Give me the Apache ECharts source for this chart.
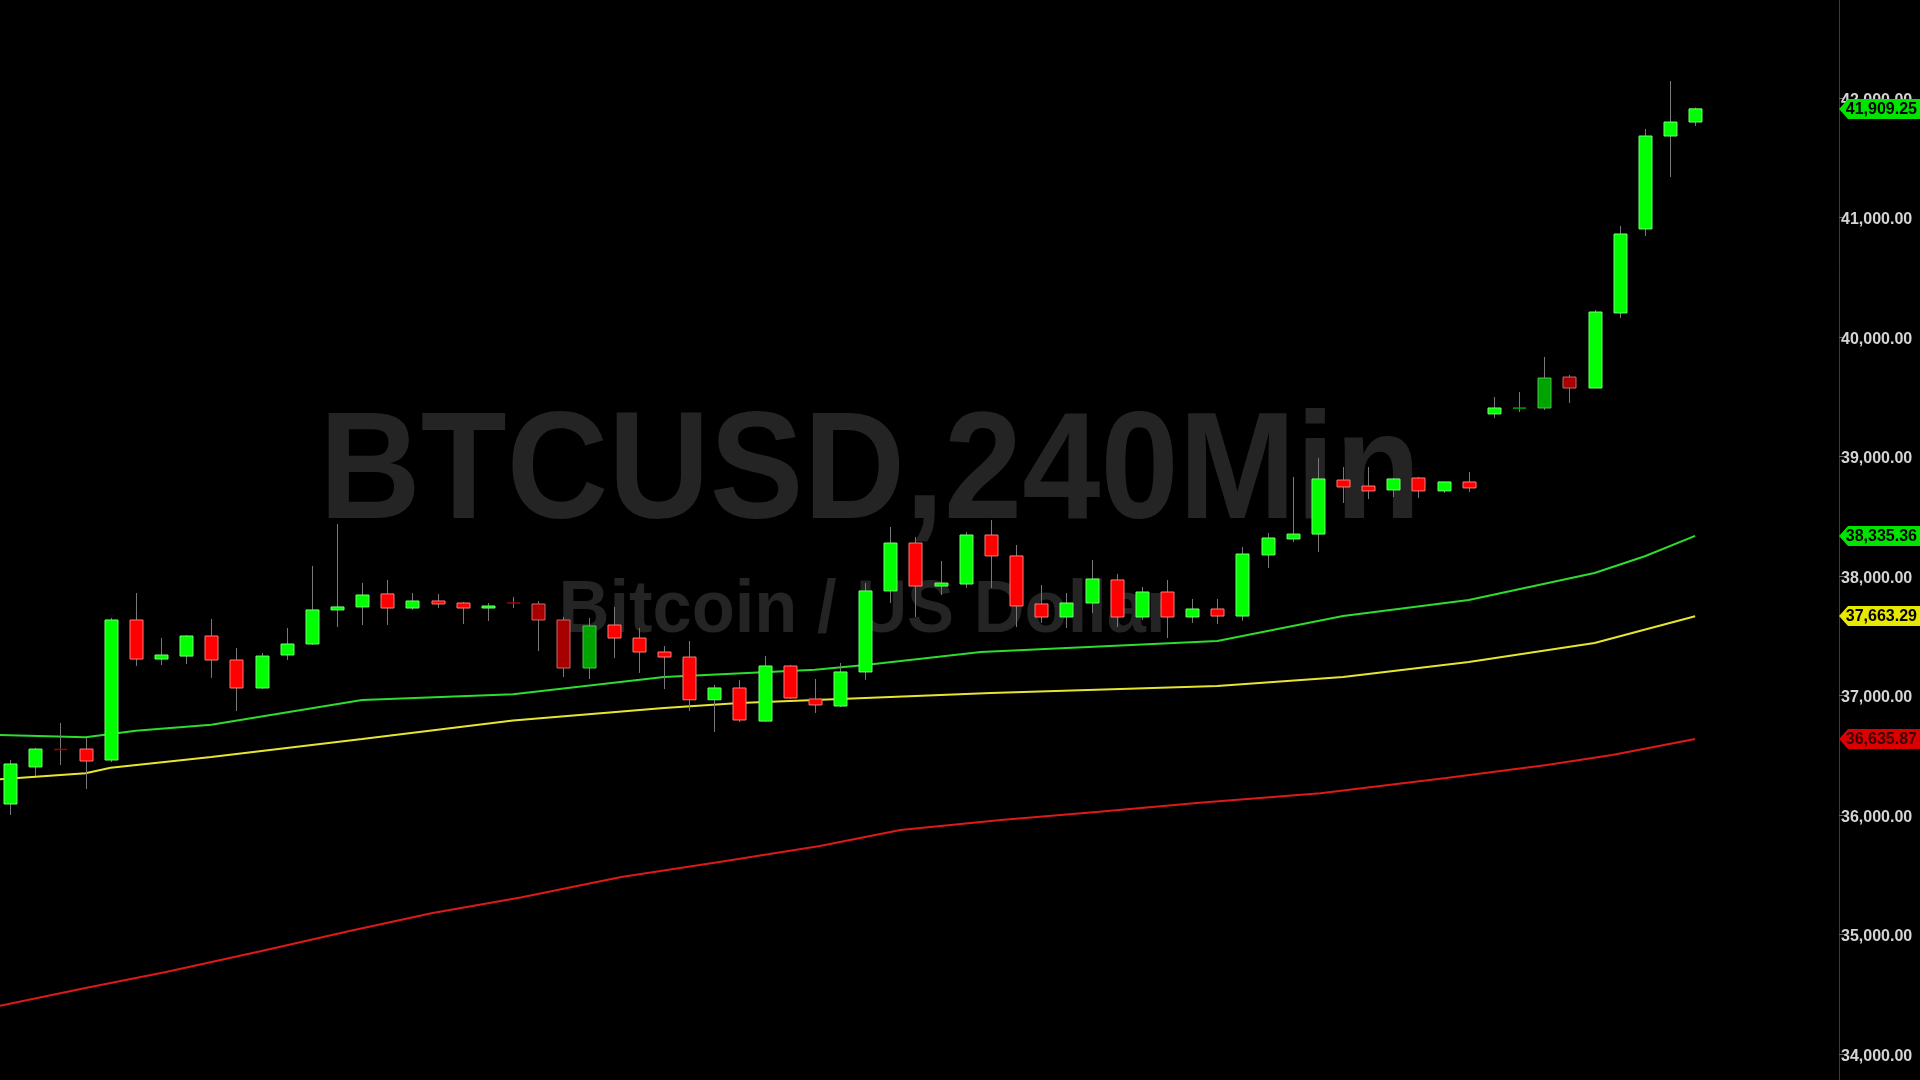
<!DOCTYPE html>
<html>
<head>
<meta charset="utf-8">
<style>
html,body{margin:0;padding:0;background:#000;}
#chart{width:1920px;height:1080px;}
</style>
<script src="https://cdn.jsdelivr.net/npm/echarts@6/dist/echarts.min.js"></script>
</head>
<body>
<div id="chart"></div>
<script>
// ---- data ----
const candleOpen = [36092,36402,36552,36552,36460,37632,37305,37330,37498,37297,
  37063,37339,37431,37716,37741,37850,37732,37791,37774,37732,
  37776,37766,37632,37230,37590,37481,37364,37322,36964,37063,
  36786,37247,36971,36912,37197,37875,38276,37916,37933,38343,
  38168,37766,37657,37774,37967,37657,37866,37657,37724,37665,
  38176,38310,38351,38803,38753,38720,38820,38712,38787,39356,
  39400,39406,39665,39573,40201,40904,41682,41799];
const candleHigh = [36460,36561,36770,36644,37649,37858,37481,37506,37640,37398,
  37356,37565,38084,38435,37942,37967,37858,37850,37783,37774,
  37825,37791,37657,37649,37741,37565,37414,37456,37088,37130,
  37330,37255,37138,37272,37941,38410,38326,38126,38368,38469,
  38260,37925,37858,38134,38017,37908,37967,37808,37808,38243,
  38360,38829,38988,38912,38912,38820,38829,38790,38870,39498,
  39540,39833,39682,40226,40929,41741,42142,41920];
const candleLow = [36000,36326,36419,36218,36443,37247,37255,37263,37147,36870,
  37055,37297,37423,37573,37590,37590,37716,37732,37598,37624,
  37732,37372,37155,37138,37314,37189,37054,36870,36695,36778,
  36778,36971,36854,36904,37130,37774,37657,37841,37900,37900,
  37573,37607,37565,37690,37573,37632,37481,37607,37598,37624,
  38067,38285,38201,38611,38644,38661,38653,38695,38703,39322,
  39372,39389,39448,39573,40159,40845,41339,41765];
const candleClose = [36427,36552,36545,36452,37632,37305,37339,37498,37297,37063,
  37330,37431,37716,37741,37841,37732,37791,37766,37732,37749,
  37772,37632,37230,37582,37481,37364,37322,36964,37063,36795,
  37247,36979,36921,37197,37875,38276,37916,37941,38343,38168,
  37749,37657,37774,37975,37657,37866,37657,37724,37665,38184,
  38318,38351,38812,38745,38712,38812,38712,38787,38737,39406,
  39410,39657,39573,40209,40862,41682,41799,41909.25];
const candleTone = ['g','g','dr','r','g','r','g','g','r','r',
  'g','g','g','g','g','r','g','r','r','g',
  'dr','dr','dr','dg','r','r','r','r','g','r',
  'g','r','r','g','g','g','r','g','g','r',
  'r','r','g','g','r','g','r','g','r','g',
  'g','g','g','r','r','g','r','g','r','g',
  'dg','dg','dr','g','g','g','g','g'];

const maFastX = [-0.4,3,5,8,14,20,26,32,34,38.6,48,53,58,63,65,67];
const maFastY = [36670,36650,36705,36755,36962,37010,37155,37215,37255,37364,37456,37665,37800,38025,38165,38335.36];
const maMidX = [-0.4,3,4,8,14,20,26,29,34,39,48,53,58,63,67];
const maMidY = [36300,36350,36395,36485,36636,36790,36896,36938,36980,37021,37080,37155,37280,37440,37663.29];
const maSlowX = [-0.4,3,6.2,10,13.5,16.8,20.3,24.3,28.2,32.2,35.4,39.4,43.3,47.3,52.1,57.1,61.1,63.7,67];
const maSlowY = [34404,34553,34686,34862,35030,35180,35310,35481,35607,35741,35875,35958,36028,36103,36182,36310,36419,36502,36635.87];

const tagValues = [41909.25, 38335.36, 37663.29, 36635.87];
const tagTone = ['g','g','y','r'];

const titleMain = 'BTCUSD,240Min';
const titleSub = 'Bitcoin / US Dollar';

// ---- styles ----
const toneFill = {g:'#00ff00', r:'#ff0000', dr:'#a80000', dg:'#00a400'};
const toneStroke = {g:'#70ff70', r:'#ff7a7a', dr:'#c86a6a', dg:'#4fbf4f'};
const tagFill = {g:'#00e400', y:'#e8e800', r:'#dc0000'};
const tagInk = {g:'#000000', y:'#000000', r:'#3a0000'};
const FONT = '"Liberation Sans", Arial, sans-serif';

function fmt(v){
  return v.toFixed(2).replace(/\B(?=(\d{3})+(?!\d))/g, ',');
}
function pairs(xs, ys){ return xs.map((x,i)=>[x, ys[i]]); }

const candleData = candleOpen.map((o,i)=>[i, o, candleClose[i], candleLow[i], candleHigh[i]]);
const tagData = tagValues.map((v,i)=>[72, v, i]);

const chart = echarts.init(document.getElementById('chart'), null, {renderer:'canvas'});

const option = {
  backgroundColor: '#000000',
  animation: false,
  grid: {left: 0, right: 81, top: -21.5, bottom: -93.5, containLabel: false, outerBoundsMode: 'none'},
  xAxis: {type:'value', min:-0.4, max:72.72, show:false},
  yAxis: {
    type:'value', position:'right', min:33000, max:43000, interval:1000,
    axisLine:{show:true, onZero:false, lineStyle:{color:'#3c3c3c', width:1}},
    axisTick:{show:true, length:5, lineStyle:{color:'#6a6a6a'}},
    splitLine:{show:false},
    axisLabel:{color:'#d4d4d4', fontSize:16, fontWeight:'bold', fontFamily:FONT, margin:2,
      formatter: function(v){ return '{t|' + fmt(v) + '}'; },
      rich:{t:{color:'#d4d4d4', fontSize:16, fontWeight:'bold', fontFamily:FONT, padding:[5,0,0,0]}}}
  },
  graphic: {elements: [
    {type:'text', x:870, y:476, scaleX:0.925, z:0, silent:true,
     style:{text:titleMain, fontSize:152, fontWeight:'bold', fontFamily:FONT, fill:'#242424', align:'center', verticalAlign:'middle'}},
    {type:'text', x:866, y:611, scaleX:0.94, z:0, silent:true,
     style:{text:titleSub, fontSize:75, fontWeight:'bold', fontFamily:FONT, fill:'#242424', align:'center', verticalAlign:'middle'}}
  ]},
  series: [
    {type:'line', name:'MA slow', data:pairs(maSlowX, maSlowY), symbol:'none', z:1,
     lineStyle:{color:'#dd1a1a', width:2}},
    {type:'line', name:'MA mid', data:pairs(maMidX, maMidY), symbol:'none', z:1,
     lineStyle:{color:'#e6e632', width:2}},
    {type:'line', name:'MA fast', data:pairs(maFastX, maFastY), symbol:'none', z:1,
     lineStyle:{color:'#2edc2e', width:2}},
    {type:'custom', name:'BTCUSD', data:candleData, z:3,
     encode:{x:0, y:[1,2,3,4]},
     renderItem: function(params, api){
       const i = api.value(0);
       const o = api.value(1), c = api.value(2), l = api.value(3), h = api.value(4);
       const tone = candleTone[params.dataIndex];
       const pO = api.coord([i, o]), pC = api.coord([i, c]);
       const pL = api.coord([i, l]), pH = api.coord([i, h]);
       const bw = Math.round(api.size([1, 0])[0] * 0.5);
       const cx = Math.round(pO[0]) + 0.5;
       const top = Math.min(pO[1], pC[1]);
       const bh = Math.max(Math.abs(pO[1] - pC[1]), 1);
       const children = [
         {type:'line', shape:{x1:cx, y1:pH[1], x2:cx, y2:pL[1]}, style:{stroke:'#787878', lineWidth:1}}
       ];
       if (Math.abs(pO[1]-pC[1]) < 2) {
         children.push({type:'line', shape:{x1:cx-bw/2, y1:(pO[1]+pC[1])/2, x2:cx+bw/2, y2:(pO[1]+pC[1])/2},
           style:{stroke: toneFill[tone], lineWidth:1.5}});
       } else {
         children.push({type:'rect', shape:{x:cx-bw/2, y:top, width:bw, height:bh},
           style:{fill: toneFill[tone], stroke: toneStroke[tone], lineWidth:1}});
       }
       return {type:'group', children: children};
     }},
    {type:'custom', name:'tags', data:tagData, z:10, clip:false,
     encode:{x:0, y:1},
     renderItem: function(params, api){
       const v = api.value(1);
       const tone = tagTone[params.dataIndex];
       const p = api.coord([api.value(0), v]);
       const x0 = params.coordSys.x + params.coordSys.width;
       const W = api.getWidth();
       const y = Math.round(p[1]);
       const hh = 10;
       return {type:'group', children:[
         {type:'polygon', shape:{points:[[x0, y],[x0+9, y-hh],[W, y-hh],[W, y+hh],[x0+9, y+hh]]},
          style:{fill: tagFill[tone]}},
         {type:'text', style:{text: fmt(v), x: W-3, y: y+1, align:'right', verticalAlign:'middle',
          fill: tagInk[tone], fontSize:16, fontWeight:'bold', fontFamily: FONT}}
       ]};
     }}
  ]
};
chart.setOption(option);
</script>
</body>
</html>
